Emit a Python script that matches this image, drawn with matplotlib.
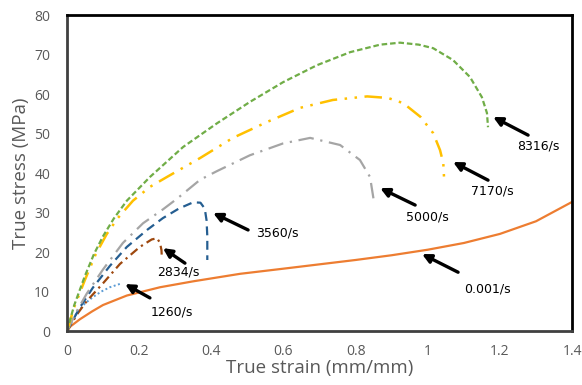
import numpy as np
import matplotlib
matplotlib.use("Agg")
import matplotlib.pyplot as plt

# courbes contrainte-deformation vraies
strain_8316 = [0, 0.02, 0.05, 0.075, 0.1, 0.13, 0.166, 0.23, 0.322, 0.416, 0.507, 0.599, 0.693, 0.785, 0.868, 0.923, 0.975, 1.015, 1.07, 1.117, 1.15, 1.164, 1.167]
stress_8316 = [0, 6.5, 14, 19.5, 24, 28.5, 33.0, 39.0, 46.6, 52.6, 58.0, 63.0, 67.3, 70.6, 72.5, 73.0, 72.5, 71.6, 68.6, 64.3, 59.2, 55.2, 51.6]

strain_7170 = [0, 0.02, 0.05, 0.08, 0.11, 0.14, 0.183, 0.23, 0.277, 0.369, 0.46, 0.554, 0.646, 0.737, 0.832, 0.89, 0.932, 0.98, 1.015, 1.034, 1.043, 1.045]
stress_7170 = [0, 6, 13, 19.5, 24.5, 28.5, 33, 36.5, 39.0, 43.8, 48.9, 52.9, 56.5, 58.5, 59.4, 59.0, 57.7, 54.2, 50.1, 45.8, 42.5, 39]

strain_5000 = [0, 0.03, 0.055, 0.1, 0.155, 0.211, 0.266, 0.305, 0.369, 0.416, 0.507, 0.599, 0.674, 0.757, 0.812, 0.84, 0.851]
stress_5000 = [0, 5.5, 9.5, 15.6, 22.3, 27.3, 30.8, 33.5, 38.3, 40.5, 44.5, 47.5, 48.9, 47.1, 43.3, 39, 32.7]

strain_3560 = [0, 0.036, 0.072, 0.119, 0.166, 0.222, 0.266, 0.31, 0.35, 0.37, 0.382, 0.387, 0.389, 0.389]
stress_3560 = [0, 6, 11, 16.5, 21.3, 25.6, 28.6, 31.0, 32.6, 32.5, 31.0, 28, 24, 18]

strain_2834 = [0, 0.03, 0.055, 0.1, 0.147, 0.202, 0.235, 0.25, 0.258, 0.262, 0.263]
stress_2834 = [0, 4.5, 7.6, 12.1, 17.0, 21.3, 23.2, 23.5, 22.3, 20.5, 18.7]

strain_1260 = [0, 0.027, 0.05, 0.072, 0.095, 0.119, 0.152]
stress_1260 = [0, 4.6, 7.0, 8.6, 10.0, 11.1, 12.1]

strain_qs = [0, 0.01, 0.036, 0.07, 0.1, 0.166, 0.258, 0.35, 0.48, 0.6, 0.7, 0.8, 0.9, 1.0, 1.1, 1.2, 1.3, 1.4]
stress_qs = [0, 1.2, 3.0, 5.0, 6.6, 9.0, 11.1, 12.6, 14.5, 15.8, 16.9, 18.0, 19.2, 20.6, 22.3, 24.6, 27.8, 32.7]

labels = ["8316/s", "7170/s", "5000/s", "3560/s", "2834/s", "1260/s", "0.001/s"]

plt.rcParams['font.family'] = ['Open Sans', 'DejaVu Sans']

fig = plt.figure(figsize=(5.82, 3.85), dpi=100)
ax = fig.add_axes([0.115, 0.140, 0.868, 0.821])

ax.plot(strain_qs, stress_qs, color="#ED7D31", lw=1.6, ls="-")
ax.plot(strain_1260, stress_1260, color="#5B9BD5", lw=1.4, ls=(0, (1, 1.3)))
ax.plot(strain_2834, stress_2834, color="#9E480E", lw=1.6, ls=(0, (4, 2, 1, 2)))
ax.plot(strain_3560, stress_3560, color="#255E91", lw=1.6, ls=(0, (4, 2.5)))
ax.plot(strain_5000, stress_5000, color="#A5A5A5", lw=1.6, ls=(0, (7, 3, 1, 3)))
ax.plot(strain_7170, stress_7170, color="#FFC000", lw=1.8, ls=(0, (7, 3, 1, 3, 1, 3)))
ax.plot(strain_8316, stress_8316, color="#70AD47", lw=1.6, ls=(0, (2.5, 1.3)))

# fleches et etiquettes (pointe, queue, texte)
arrows = [
    ((1.181, 54.2), (1.278, 49.6), (1.306, 46.8)),
    ((1.07, 42.8), (1.167, 38.2), (1.18, 35.4)),
    ((0.868, 36.2), (0.965, 31.9), (0.998, 28.9)),
    ((0.405, 29.9), (0.502, 25.6), (0.582, 24.8)),
    ((0.266, 21.0), (0.327, 17.2), (0.308, 14.9)),
    ((0.161, 11.9), (0.23, 8.4), (0.29, 4.8)),
    ((0.984, 19.5), (1.084, 14.9), (1.164, 10.6)),
]
for (tip, tail, txt), lab in zip(arrows, labels):
    ax.annotate("", xy=tip, xytext=tail,
                arrowprops=dict(arrowstyle="-|>", color="black", lw=2.4,
                                mutation_scale=13, shrinkA=0, shrinkB=0))
    ax.text(txt[0], txt[1], lab, family="DejaVu Sans", fontsize=9,
            color="black", ha="center", va="center")

ax.set_xlim(0, 1.4)
ax.set_ylim(0, 80)
ax.set_xticks([0, 0.2, 0.4, 0.6, 0.8, 1.0, 1.2, 1.4])
ax.set_xticklabels(["0", "0.2", "0.4", "0.6", "0.8", "1", "1.2", "1.4"])
ax.set_yticks(range(0, 81, 10))
ax.tick_params(length=0, labelsize=10, labelcolor="#595959")
ax.tick_params(axis="y", pad=12)
ax.tick_params(axis="x", pad=9)

ax.set_xlabel("True strain (mm/mm)", fontsize=13.5, color="#595959", labelpad=0)
ax.set_ylabel("True stress (MPa)", fontsize=13.5, color="#595959", labelpad=3)

for side in ["top", "right"]:
    ax.spines[side].set_color("black")
    ax.spines[side].set_linewidth(2)
for side in ["left", "bottom"]:
    ax.spines[side].set_color("#404040")
    ax.spines[side].set_linewidth(2)

plt.savefig("out.png", dpi=100)
